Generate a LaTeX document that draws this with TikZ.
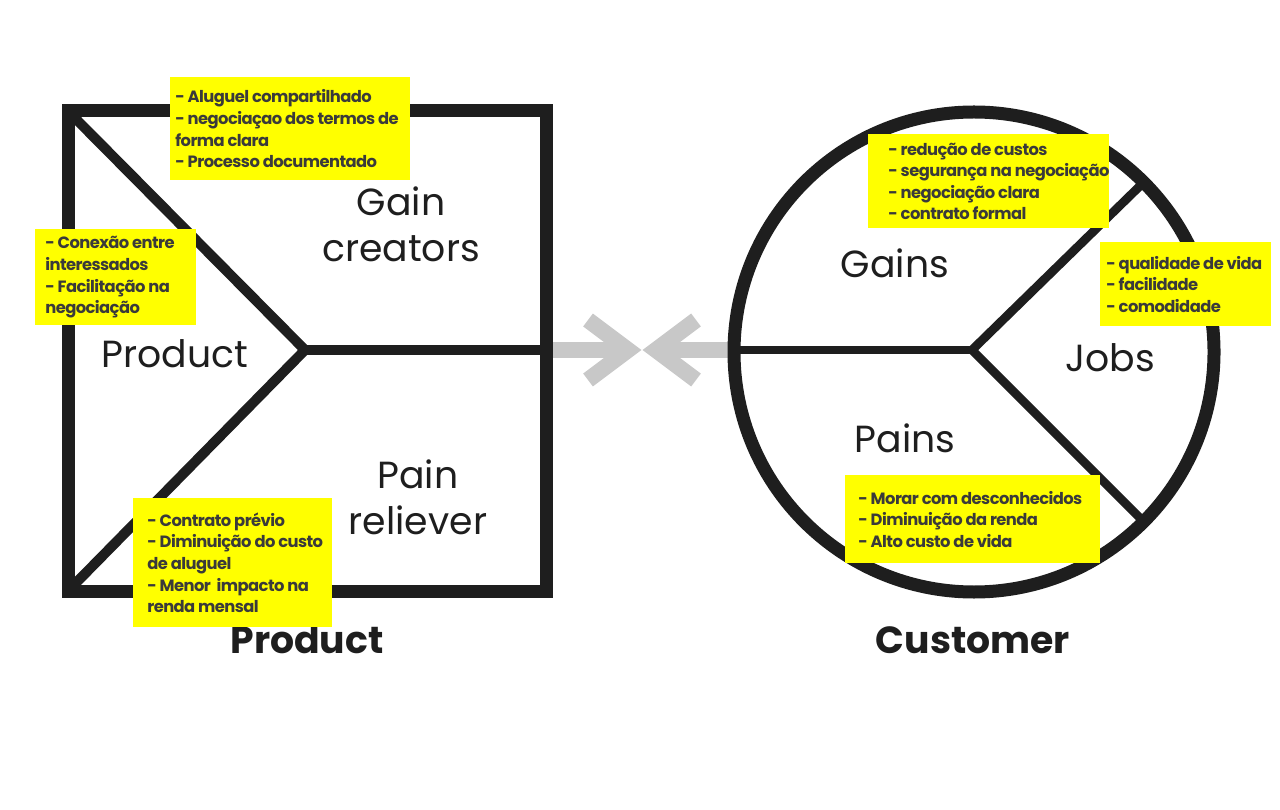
\documentclass[tikz,border=0pt]{standalone}
\usepackage{fontspec}
\setmainfont{Poppins}
\newfontfamily\notefont[LetterSpace=-3.5]{Poppins}
\usepackage{xcolor}
\definecolor{ink}{RGB}{30,30,30}
\definecolor{note}{RGB}{255,255,0}
\definecolor{notetext}{RGB}{58,58,58}
\definecolor{arrowgray}{RGB}{200,200,200}
\usetikzlibrary{calc, positioning}

\begin{document}
\begin{tikzpicture}[x=0.02cm, y=-0.02cm,
		frame/.style={draw=ink, line width=7.4pt},
		split/.style={draw=ink, line width=5.7pt},
		spoke/.style={draw=ink, line width=5pt},
		pointer/.style={draw=arrowgray, line width=9.2pt, line join=miter},
		sticky/.style={fill=note, anchor=north west, inner sep=0pt},
		stickytext/.style={text=notetext, align=left, inner sep=0pt,
			font=\notefont\bfseries\fontsize{9.3}{12.3}\selectfont},
		label/.style={text=ink, align=center, font=\fontsize{21.5}{26}\selectfont},
		heading/.style={text=ink, font=\bfseries\fontsize{21.5}{25}\selectfont}]
		\useasboundingbox (0,0) rectangle (1280,810);
		% gray arrows between the two canvases
		\scope
			\coordinate (la) at (552,350);
			\coordinate (lv) at (628,350);
			\coordinate (ra) at (728,350);
			\coordinate (rv) at (656,350);
			\draw[pointer] (la) -- (lv);
			\draw[pointer] ($(lv)+(-40,-30)$) -- (lv) -- ($(lv)+(-40,30)$);
			\draw[pointer] (ra) -- (rv);
			\draw[pointer] ($(rv)+(40,-30)$) -- (rv) -- ($(rv)+(40,30)$);
		\endscope
		% product square
		\coordinate (sqtl) at (68,111);
		\coordinate (sqbl) at (68,591);
		\coordinate (sqhub) at (305,350);
		\coordinate (sqr) at (546,350);
		\draw[frame] (sqtl) rectangle (546,591);
		\draw[split] (sqtl) -- (sqhub) -- (sqbl);
		\draw[split] (sqhub) -- (sqr);
		% customer circle
		\coordinate (cc) at (974,352);
		\coordinate (cchub) at (972,350);
		\draw[frame] (cc) circle (240);
		\draw[spoke] ($(cc)+(-240,-2)$) -- (cchub);
		\draw[spoke] (cchub) -- ($(cc)+(170,-170)$);
		\draw[spoke] (cchub) -- ($(cc)+(170,170)$);
		% labels
		\node[label] (product) at (175,354) {Product};
		\node[label] (gaincreators) at (401,224) {Gain\\creators};
		\node[label] (painreliever) at (418,497) {Pain\\reliever};
		\node[label] (gains) at (895,263) {Gains};
		\node[label] (jobs) at (1110,358) {Jobs};
		\node[label] (pains) at (905,438) {Pains};
		\node[heading] (producttitle) at (307,640) {Product};
		\node[heading] (customertitle) at (973,640) {Customer};
		% sticky notes
		\node[sticky, minimum width=4.8cm, minimum height=2.06cm] (gcnote) at (170,77) {};
		\node[stickytext, right=0.1cm of gcnote.west] (gctext) {- Aluguel compartilhado\\- negociaçao dos termos de\\forma clara\\- Processo documentado};
		\node[sticky, minimum width=3.22cm, minimum height=1.92cm] (prnote) at (35,229) {};
		\node[stickytext, right=0.2cm of prnote.west] (prtext) {- Conexão entre\\interessados\\- Facilitação na\\negociação};
		\node[sticky, minimum width=3.98cm, minimum height=2.58cm] (prlnote) at (133,498) {};
		\node[stickytext, right=0.28cm of prlnote.west] (prltext) {- Contrato prévio\\- Diminuição do custo\\de aluguel\\- Menor\ \ impacto na\\renda mensal};
		\node[sticky, minimum width=4.82cm, minimum height=1.88cm] (gnnote) at (868,134) {};
		\node[stickytext, right=0.4cm of gnnote.west] (gntext) {- redução de custos\\- segurança na negociação\\- negociação clara\\- contrato formal};
		\node[sticky, minimum width=3.42cm, minimum height=1.68cm] (jbnote) at (1100,242) {};
		\node[stickytext, right=0.12cm of jbnote.west] (jbtext) {- qualidade de vida\\- facilidade\\- comodidade};
		\node[sticky, minimum width=5.1cm, minimum height=1.76cm] (pnnote) at (845,475) {};
		\node[stickytext, right=0.26cm of pnnote.west] (pntext) {- Morar com desconhecidos\\- Diminuição da renda\\- Alto custo de vida};
	\end{tikzpicture}
\end{document}
